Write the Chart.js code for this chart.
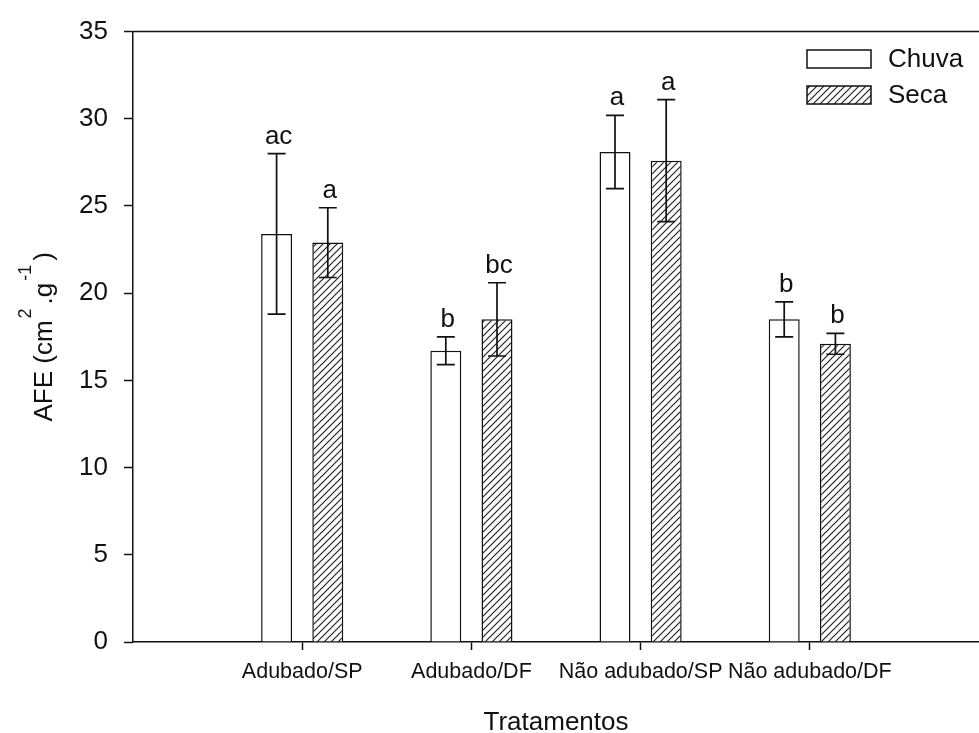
<!DOCTYPE html>
<html>
<head>
<meta charset="utf-8">
<script src="https://cdn.jsdelivr.net/npm/chart.js@4/dist/chart.umd.min.js"></script>
<style>
  body { margin: 0; background: #fff; }
</style>
</head>
<body>
<canvas id="afeChart" width="979" height="733"></canvas>
<script>
// data
const tratamentos = ["Adubado/SP", "Adubado/DF", "Não adubado/SP", "Não adubado/DF"];
const chuva = [23.4, 16.7, 28.1, 18.5];
const chuvaErro = [4.6, 0.8, 2.1, 1.0];
const chuvaLetras = ["ac", "b", "a", "b"];
const seca = [22.9, 18.5, 27.6, 17.1];
const secaErro = [2.0, 2.1, 3.5, 0.6];
const secaLetras = ["a", "bc", "a", "b"];
const yMin = 0;
const yMax = 35;
const yStep = 5;

const FONT = "'Liberation Sans', Arial, sans-serif";

// diagonal hatch for the "Seca" bars
function makeHatch() {
    const size = 7;
    const c = document.createElement("canvas");
    c.width = size;
    c.height = size;
    const g = c.getContext("2d");
    g.fillStyle = "#fff";
    g.fillRect(0, 0, size, size);
    g.strokeStyle = "#222";
    g.lineWidth = 1.2;
    g.beginPath();
    g.moveTo(-1, size + 1);
    g.lineTo(size + 1, -1);
    g.moveTo(-1, 1);
    g.lineTo(1, -1);
    g.moveTo(size - 1, size + 1);
    g.lineTo(size + 1, size - 1);
    g.stroke();
    return g.createPattern(c, "repeat");
}

// empty slots at both ends so the groups sit at 1/5 .. 4/5 of the axis
const labels = ["", ...tratamentos, ""];
const pad = arr => [null, ...arr, null];

const erros = [chuvaErro, secaErro];
const letras = [chuvaLetras, secaLetras];

const extras = {
    id: "extras",
    afterDatasetsDraw(chart) {
        const ctx = chart.ctx;
        const y = chart.scales.y;
        ctx.save();
        ctx.strokeStyle = "#111";
        ctx.lineWidth = 1.7;
        ctx.fillStyle = "#111";
        ctx.font = "26px " + FONT;
        ctx.textAlign = "center";
        ctx.textBaseline = "alphabetic";
        chart.data.datasets.forEach((ds, d) => {
            const meta = chart.getDatasetMeta(d);
            meta.data.forEach((bar, i) => {
                const v = ds.data[i];
                if (v === null) return;
                const e = erros[d][i - 1];
                const x = bar.x;
                const top = y.getPixelForValue(v + e);
                const bot = y.getPixelForValue(v - e);
                ctx.beginPath();
                ctx.moveTo(x, top);
                ctx.lineTo(x, bot);
                ctx.moveTo(x - 9, top);
                ctx.lineTo(x + 9, top);
                ctx.moveTo(x - 9, bot);
                ctx.lineTo(x + 9, bot);
                ctx.stroke();
                ctx.fillText(letras[d][i - 1], x + 2, top - 10);
            });
        });
        ctx.restore();
    },
    afterDraw(chart) {
        const ctx = chart.ctx;
        const a = chart.chartArea;
        ctx.save();
        // top frame line
        ctx.strokeStyle = "#111";
        ctx.lineWidth = 1.5;
        ctx.beginPath();
        ctx.moveTo(a.left, a.top);
        ctx.lineTo(a.right, a.top);
        ctx.stroke();

        // legend
        ctx.font = "26px " + FONT;
        ctx.textAlign = "left";
        ctx.textBaseline = "middle";
        chart.data.datasets.forEach((ds, d) => {
            const bx = 807, by = 50 + d * 36;
            ctx.fillStyle = ds.backgroundColor;
            ctx.fillRect(bx, by, 64, 18);
            ctx.lineWidth = 1.5;
            ctx.strokeRect(bx, by, 64, 18);
            ctx.fillStyle = "#111";
            ctx.fillText(ds.label, 888, by + 10);
        });

        // x title
        ctx.textAlign = "center";
        ctx.textBaseline = "alphabetic";
        ctx.font = "26px " + FONT;
        ctx.fillText("Tratamentos", (a.left + a.right) / 2, 730);

        // y title with superscripts: [text, size, raise, gap before, gap after]
        const parts = [
            ["AFE (cm", 26, 0, 0, 0],
            ["2", 18, 21, 2, 4],
            [".g", 26, 0, 0, 0],
            ["-1", 18, 21, 2, 4],
            [")", 26, 0, 0, 0]
        ];
        let total = 0;
        parts.forEach(p => {
            ctx.font = p[1] + "px " + FONT;
            p.push(ctx.measureText(p[0]).width);
            total += p[5] + p[3] + p[4];
        });
        ctx.translate(52, (a.top + a.bottom) / 2);
        ctx.rotate(-Math.PI / 2);
        ctx.textAlign = "left";
        let cx = -total / 2;
        parts.forEach(p => {
            ctx.font = p[1] + "px " + FONT;
            cx += p[3];
            ctx.fillText(p[0], cx, -p[2]);
            cx += p[5] + p[4];
        });
        ctx.restore();
    }
};

const hatch = makeHatch();

const data = {
    labels: labels,
    datasets: [
        {
            label: "Chuva",
            data: pad(chuva),
            backgroundColor: "#ffffff",
            borderColor: "#111",
            borderWidth: 1.5,
            categoryPercentage: 0.605,
            barPercentage: 0.605,
        },
        {
            label: "Seca",
            data: pad(seca),
            backgroundColor: hatch,
            borderColor: "#111",
            borderWidth: 1.5,
            categoryPercentage: 0.605,
            barPercentage: 0.605,
        },
    ],
};

const hideEnds = ctx => (ctx.tick && ctx.tick.label === "" ? "rgba(0,0,0,0)" : "#111");

const config = {
    type: "bar",
    data: data,
    options: {
        responsive: false,
        animation: false,
        layout: { padding: { top: 28, right: 0, bottom: 0, left: 0 } },
        plugins: {
            legend: { display: false },
            tooltip: { enabled: false },
        },
        scales: {
            x: {
                offset: false,
                grid: {
                    offset: false,
                    drawOnChartArea: false,
                    tickLength: 8,
                    tickWidth: 1.5,
                    tickColor: hideEnds,
                },
                border: { color: "#111", width: 1.5 },
                ticks: {
                    color: "#111",
                    font: { family: FONT, size: 21.5 },
                    padding: 9,
                    maxRotation: 0,
                    autoSkip: false,
                },
                afterFit: s => {
                    s.height = 91;
                    s.paddingRight = 0;
                },
            },
            y: {
                min: yMin,
                max: yMax,
                grid: {
                    drawOnChartArea: false,
                    tickLength: 9,
                    tickWidth: 1.5,
                    tickColor: "#111",
                },
                border: { color: "#111", width: 1.5 },
                ticks: {
                    stepSize: yStep,
                    color: "#111",
                    font: { family: FONT, size: 26 },
                    padding: 16,
                },
                afterFit: s => { s.width = 133; },
            },
        },
    },
    plugins: [extras],
};

const afeChart = new Chart(document.getElementById("afeChart"), config);
</script>
</body>
</html>
